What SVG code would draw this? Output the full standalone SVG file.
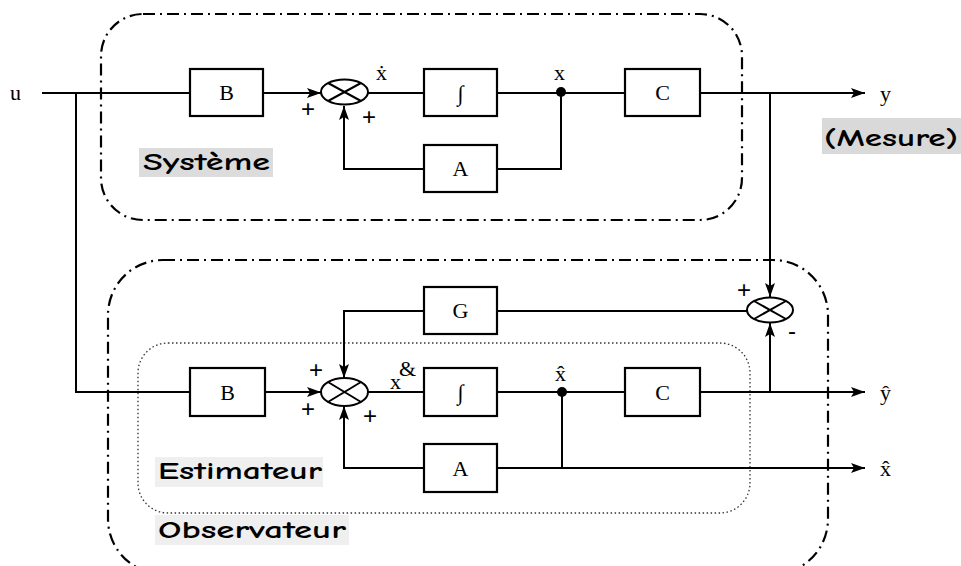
<svg xmlns="http://www.w3.org/2000/svg" width="961" height="566" viewBox="0 0 961 566">
<style>
.ln{fill:none;stroke:#000;stroke-width:2}
.box{fill:#fff;stroke:#000;stroke-width:2.2}
.grp{fill:none;stroke:#000;stroke-width:2.2;stroke-dasharray:12 5 2 5}
.dot{fill:none;stroke:#333;stroke-width:1.3;stroke-dasharray:1.5 2.5}
.sum{fill:#fff;stroke:#000;stroke-width:2}
.m{font-family:"Liberation Serif",serif;font-size:22px;fill:#000}
.bt{font-family:"Liberation Serif",serif;font-size:22px;text-anchor:middle;fill:#000}
.pm{font-family:"Liberation Sans",sans-serif;font-size:24px;fill:#000}
.lb{font-family:"Comic Neue","Liberation Sans",sans-serif;font-size:24px;font-weight:bold;fill:#000}
</style>
<defs>
<marker id="ah" viewBox="0 0 14 10" refX="14" refY="5" markerWidth="14" markerHeight="10" markerUnits="userSpaceOnUse" orient="auto">
<path d="M0,0 L14,5 L0,10 L3,5 z" fill="#000"/>
</marker>
</defs>
<g id="groups">
<rect class="grp" x="101" y="14" width="641" height="206" rx="42"/>
<rect class="grp" x="108" y="260" width="720" height="314" rx="55"/>
<rect class="dot" x="138" y="343" width="612" height="170" rx="30"/>
</g>
<g id="labels">
<rect x="139" y="148" width="134" height="29" fill="#dcdcdc"/>
<text class="lb" x="143" y="170" textLength="127" lengthAdjust="spacingAndGlyphs">Système</text>
<rect x="822" y="118" width="139" height="36" fill="#d9d9d9"/>
<text class="lb" x="824" y="146" textLength="134" lengthAdjust="spacingAndGlyphs">(Mesure)</text>
<rect x="155" y="457" width="168" height="30" fill="#efefef"/>
<text class="lb" x="158" y="479" textLength="164" lengthAdjust="spacingAndGlyphs">Estimateur</text>
<rect x="155" y="515" width="194" height="30" fill="#efefef"/>
<text class="lb" x="158" y="538" textLength="188" lengthAdjust="spacingAndGlyphs">Observateur</text>
<text class="m" x="10" y="100">u</text>
<text class="m" x="880" y="101">y</text>
<text class="m" x="880" y="400">ŷ</text>
<text class="m" x="880" y="476">x̂</text>
<text class="m" x="376" y="80">ẋ</text>
<text class="m" x="554" y="80">x</text>
<text class="m" x="555" y="381">x̂</text>
<text class="m" x="390" y="389" font-size="24">x</text>
<text class="m" x="399" y="376" font-size="22">&amp;</text>
<text class="pm" x="301" y="117">+</text>
<text class="pm" x="362" y="125">+</text>
<text class="pm" x="309" y="378">+</text>
<text class="pm" x="301" y="417">+</text>
<text class="pm" x="363" y="424">+</text>
<text class="pm" x="737" y="298">+</text>
<text class="pm" x="788" y="339">-</text>
</g>
<g id="connectors">
<path class="ln" d="M42,93 H190"/>
<path class="ln" d="M76,93 V392 H190"/>
<path class="ln" d="M263,93 H321" marker-end="url(#ah)"/>
<path class="ln" d="M368,93 H424"/>
<path class="ln" d="M497,93 H625"/>
<path class="ln" d="M700,93 H865" marker-end="url(#ah)"/>
<path class="ln" d="M561,93 V169 H497"/>
<path class="ln" d="M424,169 H344 V106" marker-end="url(#ah)"/>
<path class="ln" d="M770,93 V297" marker-end="url(#ah)"/>
<path class="ln" d="M497,311 H747"/>
<path class="ln" d="M424,311 H344 V378" marker-end="url(#ah)"/>
<path class="ln" d="M265,392 H321" marker-end="url(#ah)"/>
<path class="ln" d="M368,392 H424"/>
<path class="ln" d="M497,392 H625"/>
<path class="ln" d="M700,392 H865" marker-end="url(#ah)"/>
<path class="ln" d="M770,392 V323" marker-end="url(#ah)"/>
<path class="ln" d="M562,392 V468"/>
<path class="ln" d="M497,468 H865" marker-end="url(#ah)"/>
<path class="ln" d="M424,468 H344 V406" marker-end="url(#ah)"/>
<circle cx="561" cy="92" r="5" fill="#000"/>
<circle cx="562" cy="392" r="5" fill="#000"/>
</g>
<g id="B1"><rect class="box" x="190" y="69" width="73" height="47"/><text class="bt" x="226.5" y="100">B</text></g>
<g id="S1"><ellipse class="sum" cx="344.5" cy="92" rx="23.5" ry="12.5"/><path class="ln" d="M328,83 L361,101 M328,101 L361,83"/></g>
<g id="I1"><rect class="box" x="424" y="69" width="73" height="47"/><text class="bt" x="460.5" y="101">∫</text></g>
<g id="C1"><rect class="box" x="625" y="69" width="75" height="47"/><text class="bt" x="662.5" y="100">C</text></g>
<g id="A1"><rect class="box" x="424" y="145" width="73" height="47"/><text class="bt" x="460.5" y="176">A</text></g>
<g id="G"><rect class="box" x="424" y="287" width="73" height="47"/><text class="bt" x="460.5" y="318">G</text></g>
<g id="S3"><ellipse class="sum" cx="770" cy="310" rx="23" ry="12.5"/><path class="ln" d="M754,301 L786,319 M754,319 L786,301"/></g>
<g id="B2"><rect class="box" x="190" y="368" width="75" height="48"/><text class="bt" x="227.5" y="400">B</text></g>
<g id="S2"><ellipse class="sum" cx="344.5" cy="392" rx="23.5" ry="14"/><path class="ln" d="M328,382 L361,402 M328,402 L361,382"/></g>
<g id="I2"><rect class="box" x="424" y="368" width="73" height="48"/><text class="bt" x="460.5" y="400">∫</text></g>
<g id="C2"><rect class="box" x="625" y="368" width="75" height="48"/><text class="bt" x="662.5" y="400">C</text></g>
<g id="A2"><rect class="box" x="424" y="444" width="73" height="48"/><text class="bt" x="460.5" y="476">A</text></g>
</svg>
